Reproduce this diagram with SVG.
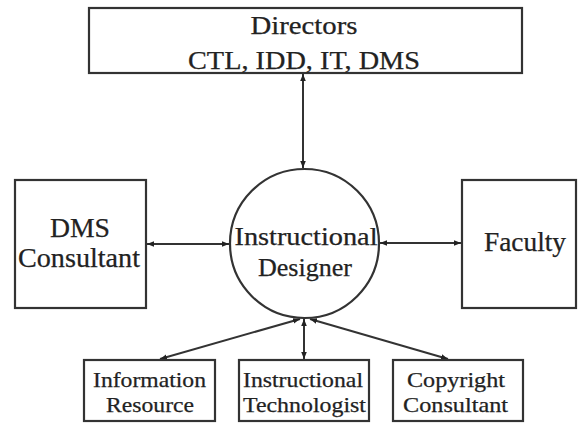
<svg xmlns="http://www.w3.org/2000/svg" width="578" height="424" viewBox="0 0 578 424">
<defs>
<marker id="ah" viewBox="0 0 10 10" refX="10" refY="5" markerWidth="7" markerHeight="7" markerUnits="userSpaceOnUse" orient="auto-start-reverse">
<path d="M0,1 L10,5 L0,9 Z" fill="#222"/>
</marker>
<style>
.box{fill:#fff;stroke:#333;stroke-width:2.2}
.t{font-family:'Liberation Serif',Tinos,'Times New Roman',serif;fill:#222;stroke:#222;stroke-width:0.25;text-anchor:middle}
.c{stroke:#333;stroke-width:2;fill:none;marker-start:url(#ah);marker-end:url(#ah)}
</style>
</defs>
<rect width="578" height="424" fill="#fff"/>
<g id="connectors">
<line class="c" x1="303" y1="74" x2="303" y2="168"/>
<line class="c" x1="147" y1="244" x2="229" y2="244"/>
<line class="c" x1="380" y1="243" x2="461" y2="243"/>
<line class="c" x1="300" y1="319" x2="160" y2="359"/>
<line class="c" x1="304" y1="319" x2="304" y2="359"/>
<line class="c" x1="310" y1="319" x2="448" y2="359"/>
</g>
<g id="directors">
<rect class="box" x="89" y="8" width="433" height="65"/>
<text class="t" x="304" y="34" font-size="25" textLength="107" lengthAdjust="spacingAndGlyphs">Directors</text>
<text class="t" x="304" y="69" font-size="25" textLength="232" lengthAdjust="spacingAndGlyphs">CTL, IDD, IT, DMS</text>
</g>
<g id="designer">
<circle cx="304.5" cy="243.5" r="74.5" fill="#fff" stroke="#333" stroke-width="2.2"/>
<text class="t" x="306" y="245" font-size="25" textLength="143" lengthAdjust="spacingAndGlyphs">Instructional</text>
<text class="t" x="305" y="276" font-size="25" textLength="94" lengthAdjust="spacingAndGlyphs">Designer</text>
</g>
<g id="dms">
<rect class="box" x="15" y="180" width="131" height="128"/>
<text class="t" x="80" y="237" font-size="27" textLength="60" lengthAdjust="spacingAndGlyphs">DMS</text>
<text class="t" x="79" y="267" font-size="27" textLength="122" lengthAdjust="spacingAndGlyphs">Consultant</text>
</g>
<g id="faculty">
<rect class="box" x="462" y="180" width="114" height="128"/>
<text class="t" x="525" y="251" font-size="27" textLength="82" lengthAdjust="spacingAndGlyphs">Faculty</text>
</g>
<g id="info">
<rect class="box" x="84" y="360" width="131" height="61"/>
<text class="t" x="149.5" y="387" font-size="22" textLength="113" lengthAdjust="spacingAndGlyphs">Information</text>
<text class="t" x="150" y="412" font-size="22" textLength="88" lengthAdjust="spacingAndGlyphs">Resource</text>
</g>
<g id="tech">
<rect class="box" x="239" y="360" width="130" height="61"/>
<text class="t" x="303" y="387" font-size="22" textLength="120" lengthAdjust="spacingAndGlyphs">Instructional</text>
<text class="t" x="304.5" y="412" font-size="22" textLength="123" lengthAdjust="spacingAndGlyphs">Technologist</text>
</g>
<g id="copyright">
<rect class="box" x="393" y="360" width="130" height="61"/>
<text class="t" x="456" y="387" font-size="22" textLength="98" lengthAdjust="spacingAndGlyphs">Copyright</text>
<text class="t" x="455.5" y="412" font-size="22" textLength="105" lengthAdjust="spacingAndGlyphs">Consultant</text>
</g>
</svg>
